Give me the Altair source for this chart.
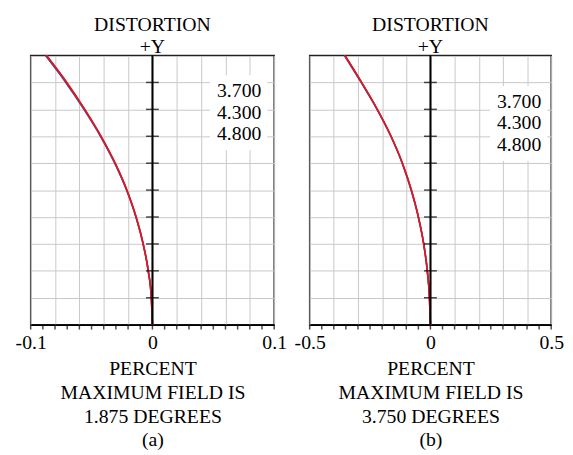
import altair as alt
import pandas as pd

# relative field height (0 = axis, 1 = maximum field)
field = [0.0, 0.1, 0.2, 0.3, 0.4, 0.5, 0.6, 0.7, 0.8, 0.9, 1.0]

# panel (a): distortion in percent, maximum field 1.875 degrees
a_3700 = [0.0, -0.0009, -0.0034, -0.0076, -0.0134, -0.0210, -0.0306, -0.0422, -0.0556, -0.0704, -0.0870]
a_4300 = [0.0, -0.0009, -0.0035, -0.0077, -0.0136, -0.0213, -0.0310, -0.0427, -0.0563, -0.0712, -0.0879]
a_4800 = [0.0, -0.0009, -0.0034, -0.0076, -0.0134, -0.0210, -0.0306, -0.0422, -0.0556, -0.0704, -0.0870]

# panel (b): distortion in percent, maximum field 3.750 degrees
b_3700 = [0.0, -0.004, -0.013, -0.028, -0.050, -0.079, -0.116, -0.163, -0.220, -0.285, -0.354]
b_4300 = [0.0, -0.004, -0.013, -0.028, -0.050, -0.080, -0.117, -0.164, -0.221, -0.287, -0.356]
b_4800 = [0.0, -0.004, -0.013, -0.028, -0.050, -0.079, -0.116, -0.163, -0.220, -0.285, -0.354]

series_names = ["3.700", "4.300", "4.800"]
series_colors = ["#e3161c", "#3b4ea3", "#e3161c"]

a_grid = [-0.1, -0.08, -0.06, -0.04, -0.02, 0.0, 0.02, 0.04, 0.06, 0.08, 0.1]
a_minor = [-0.1, -0.09, -0.08, -0.07, -0.06, -0.05, -0.04, -0.03, -0.02, -0.01, 0.0,
           0.01, 0.02, 0.03, 0.04, 0.05, 0.06, 0.07, 0.08, 0.09, 0.1]
a_labels = ["-0.1", "0", "0.1"]
b_grid = [-0.5, -0.4, -0.3, -0.2, -0.1, 0.0, 0.1, 0.2, 0.3, 0.4, 0.5]
b_minor = [-0.5, -0.45, -0.4, -0.35, -0.3, -0.25, -0.2, -0.15, -0.1, -0.05, 0.0,
           0.05, 0.1, 0.15, 0.2, 0.25, 0.3, 0.35, 0.4, 0.45, 0.5]
b_labels = ["-0.5", "0", "0.5"]
y_grid = [0.1, 0.2, 0.3, 0.4, 0.5, 0.6, 0.7, 0.8, 0.9]

a_title = ["PERCENT", "MAXIMUM FIELD IS", "1.875 DEGREES", "(a)"]
b_title = ["PERCENT", "MAXIMUM FIELD IS", "3.750 DEGREES", "(b)"]
top_title = ["DISTORTION", "+Y"]

FONT = "Liberation Serif"
FS = 20
H = 273


def panel(series_vals, grid_vals, minor_vals, labels, lim, xtitle, width, leg_x, leg_y):
    rows = []
    for name, vals in zip(series_names, series_vals):
        for h, v in zip(field, vals):
            rows.append({"h": h, "d": v, "s": name})
    df = pd.DataFrame(rows)
    lab_list = ",".join("'" + l + "'" for l in labels)
    label_expr = (f"indexof([{lab_list}], toString(datum.value)) >= 0 ? "
                  f"toString(datum.value) : ''")
    xscale = alt.Scale(domain=[-lim, lim], nice=False, zero=False)
    yscale = alt.Scale(domain=[0, 1], nice=False)

    lines = alt.Chart(df).mark_line(strokeWidth=1.6, interpolate="monotone").encode(
        x=alt.X("d:Q", scale=xscale, axis=alt.Axis(
            values=grid_vals, labelExpr=label_expr, labelOverlap=False, labelFlush=False,
            labelFont=FONT, labelFontSize=FS, labelColor="black", labelPadding=3,
            ticks=True, tickSize=5, tickOpacity=0,
            domainColor="black", domainWidth=1.5,
            grid=True, gridColor="#c8c8c8", gridWidth=1,
            title=xtitle, titleFont=FONT, titleFontSize=FS, titleFontWeight="normal",
            titleColor="black", titleLineHeight=24, titlePadding=7)),
        y=alt.Y("h:Q", scale=yscale, axis=alt.Axis(
            values=y_grid, labels=False, ticks=False, domain=False, grid=True,
            gridColor="#c8c8c8", gridWidth=1, title=None)),
        color=alt.Color("s:N", scale=alt.Scale(domain=series_names, range=series_colors),
                        legend=alt.Legend(
                            orient="none", legendX=leg_x, legendY=leg_y, title=None,
                            fillColor="white", padding=6, symbolSize=0,
                            symbolStrokeWidth=0, symbolOpacity=0,
                            labelOffset={"expr": "-19"},
                            labelFont=FONT, labelFontSize=FS, labelColor="black",
                            rowPadding=2)),
    )

    center = alt.Chart(pd.DataFrame({"z": [0.0]})).mark_rule(
        color="black", strokeWidth=2).encode(x=alt.X("z:Q", scale=xscale, axis=None))

    ctick = alt.Chart(pd.DataFrame({"h": y_grid, "z": [0.0] * len(y_grid)})).mark_tick(
        orient="horizontal", size=13, thickness=1.5, color="black").encode(
        x=alt.X("z:Q", scale=xscale, axis=None), y=alt.Y("h:Q", scale=yscale, axis=None))

    mtick = alt.Chart(pd.DataFrame({"m": minor_vals, "z": [0.0] * len(minor_vals)})).mark_tick(
        orient="vertical", size=5, thickness=1.5, color="black", yOffset=2.5).encode(
        x=alt.X("m:Q", scale=xscale, axis=None), y=alt.Y("z:Q", scale=yscale, axis=None))

    return alt.layer(lines, center, ctick, mtick).resolve_axis(
        x="independent", y="independent").properties(
        width=width, height=H,
        title=alt.TitleParams(text=top_title, font=FONT, fontSize=FS, fontWeight="normal",
                              color="black", lineHeight=23, offset=-5, anchor="middle"))


pa = panel([a_3700, a_4300, a_4800], a_grid, a_minor, a_labels, 0.1, a_title, 247, 182, 20)
pb = panel([b_3700, b_4300, b_4800], b_grid, b_minor, b_labels, 0.5, b_title, 245, 183, 31)

chart = alt.hconcat(pa, pb, spacing=36, bounds="flush").resolve_scale(
    color="independent").properties(
    padding={"left": 6, "top": 3, "right": 0, "bottom": 0}
).configure(background="white").configure_view(stroke="#222222", strokeWidth=1.5)

chart.save("out.html", embed_options={"renderer": "svg", "actions": False})
